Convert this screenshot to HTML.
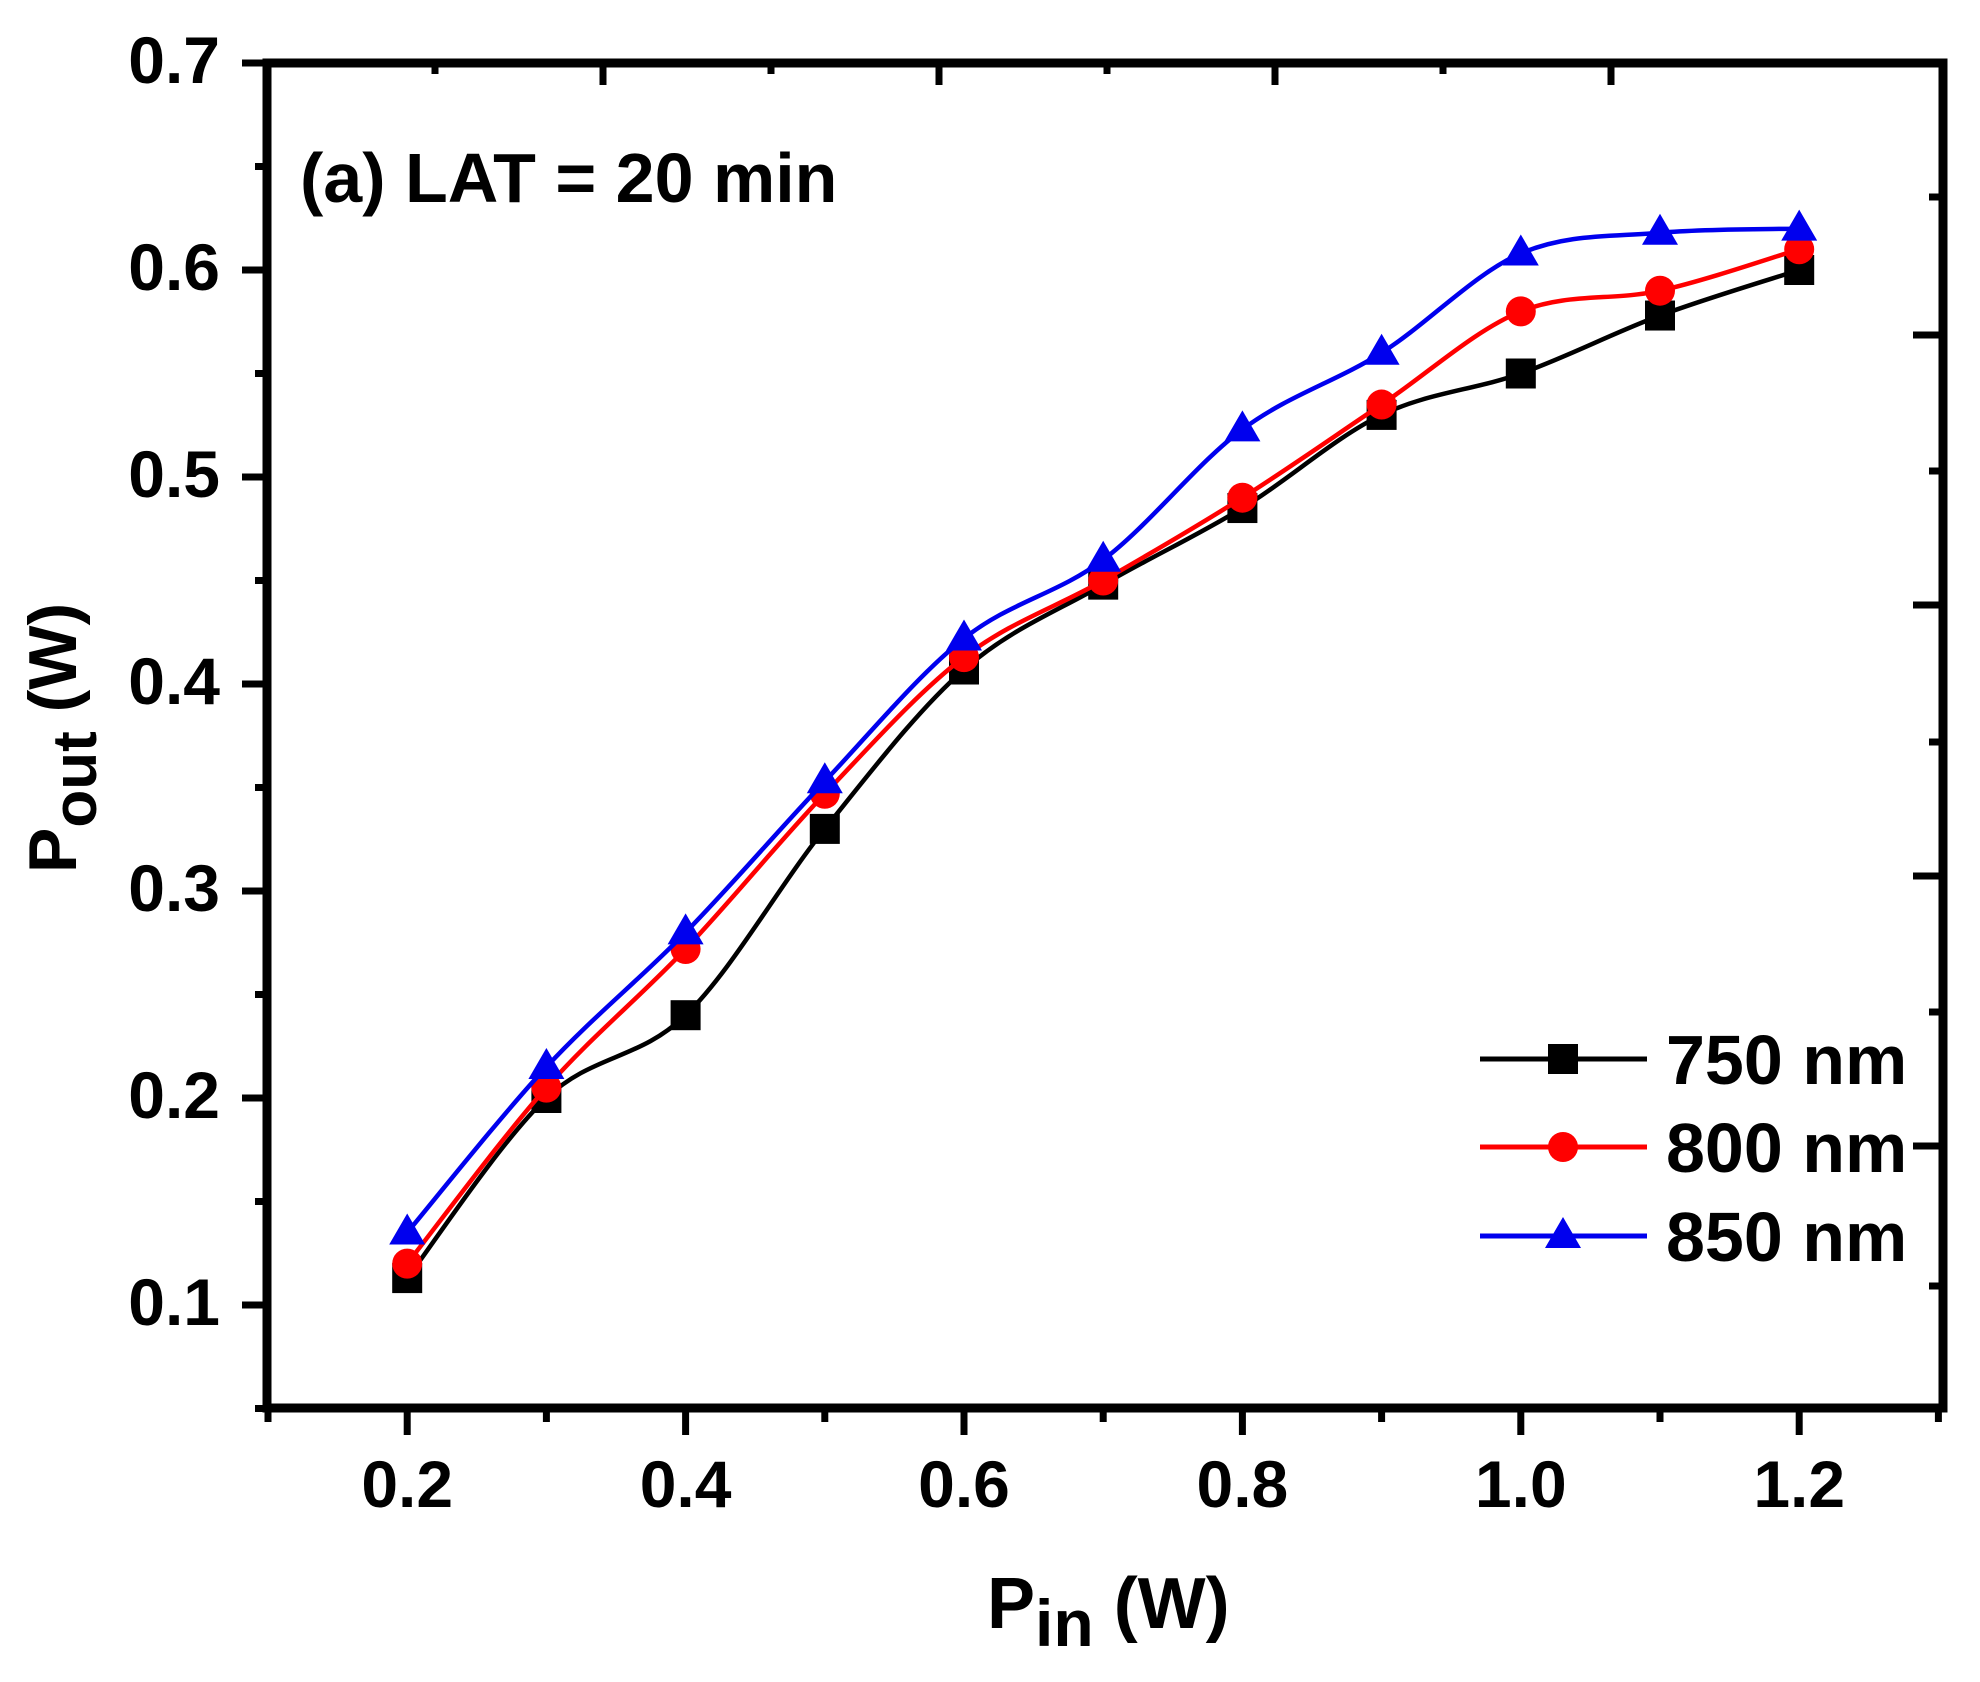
<!DOCTYPE html>
<html><head><meta charset="utf-8"><style>
html,body{margin:0;padding:0;background:#fff;}
svg{display:block;}
text{font-family:"Liberation Sans",sans-serif;font-weight:bold;fill:#000;}
</style></head><body>
<svg id="s" width="1980" height="1682" viewBox="0 0 1980 1682" xmlns="http://www.w3.org/2000/svg">
<g id="g"></g>
<text x="300" y="202" font-size="70">(a) LAT = 20 min</text>
<text x="987" y="1628" font-size="72">P<tspan font-size="66" dy="18">in</tspan><tspan dy="-18"> (W)</tspan></text>
<text transform="translate(76,873) rotate(-90)" font-size="68">P<tspan font-size="62" dy="20">out</tspan><tspan dy="-20"> (W)</tspan></text>
<g font-size="70">
<text x="1666" y="1084">750 nm</text>
<text x="1666" y="1172">800 nm</text>
<text x="1666" y="1261">850 nm</text>
</g>
</svg>
<script>
var NS="http://www.w3.org/2000/svg",g=document.getElementById('g');
function el(t,a){var e=document.createElementNS(NS,t);for(var k in a)e.setAttribute(k,a[k]);g.appendChild(e);return e;}
function X(v){return 268+(v-0.1)*1392;}
function Y(v){return 63+(0.7-v)*2070;}
var L=267,R=1943,T=63,B=1408;
// frame
el('rect',{x:L,y:T,width:R-L,height:B-T,fill:'none',stroke:'#000','stroke-width':9});
// bottom ticks
for(var i=1;i<=13;i++){var v=i/10,x=X(v),maj=(i%2==0);el('line',{x1:x,y1:B,x2:x,y2:B+(maj?27:14),stroke:'#000','stroke-width':7});
 if(maj){var t=el('text',{x:x,y:1507,'font-size':66,'text-anchor':'middle'});t.textContent=v.toFixed(1);}}
// left ticks
for(var i=1;i<=14;i++){var v=0.05*i,y=Y(v),maj=(i%2==0);if(y>B+1||y<T-1)continue;el('line',{x1:L,y1:y,x2:L-(maj?25:12),y2:y,stroke:'#000','stroke-width':7});
 if(maj){var t=el('text',{x:220,y:y+20,'font-size':66,'text-anchor':'end'});t.textContent=v.toFixed(1);}}
// top ticks
[435,603,771,939,1107,1275,1443,1611].forEach(function(x,i){el('line',{x1:x,y1:T,x2:x,y2:T+(i%2?22:11),stroke:'#000','stroke-width':7});});
// right ticks
[197,335,471,605,742,876,1012,1146,1286].forEach(function(y,i){el('line',{x1:R,y1:y,x2:R-(i%2?30:14),y2:y,stroke:'#000','stroke-width':7});});
var xs=[0.2,0.3,0.4,0.5,0.6,0.7,0.8,0.9,1.0,1.1,1.2];
var S=[
 {c:'#000',m:'s',d:[0.113,0.2,0.24,0.33,0.407,0.448,0.485,0.53,0.55,0.578,0.6]},
 {c:'#ff0000',m:'c',d:[0.12,0.205,0.272,0.347,0.413,0.45,0.49,0.535,0.58,0.59,0.61]},
 {c:'#0000ee',m:'t',d:[0.135,0.215,0.28,0.353,0.422,0.46,0.523,0.56,0.608,0.618,0.62]}];
function path(p){var s='M'+p[0][0]+','+p[0][1];for(var i=0;i<p.length-1;i++){var p0=p[Math.max(i-1,0)],p1=p[i],p2=p[i+1],p3=p[Math.min(i+2,p.length-1)];
 s+=' C'+(p1[0]+(p2[0]-p0[0])/6)+','+(p1[1]+(p2[1]-p0[1])/6)+' '+(p2[0]-(p3[0]-p1[0])/6)+','+(p2[1]-(p3[1]-p1[1])/6)+' '+p2[0]+','+p2[1];}return s;}
function mk(m,x,y,c){if(m=='s')el('rect',{x:x-15,y:y-15,width:30,height:30,fill:c});
 else if(m=='c')el('circle',{cx:x,cy:y,r:15,fill:c});
 else el('polygon',{points:(x)+','+(y-19)+' '+(x-18)+','+(y+12)+' '+(x+18)+','+(y+12),fill:c});}
S.forEach(function(s){var p=xs.map(function(v,i){return [X(v),Y(s.d[i])];});
 el('path',{d:path(p),fill:'none',stroke:s.c,'stroke-width':4.5});
 p.forEach(function(q){mk(s.m,q[0],q[1],s.c);});});
// legend
[[1059,0],[1147,1],[1236,2]].forEach(function(r){var s=S[r[1]];el('line',{x1:1480,y1:r[0],x2:1647,y2:r[0],stroke:s.c,'stroke-width':5});mk(s.m,1563,r[0],s.c);});
</script>
</body></html>
